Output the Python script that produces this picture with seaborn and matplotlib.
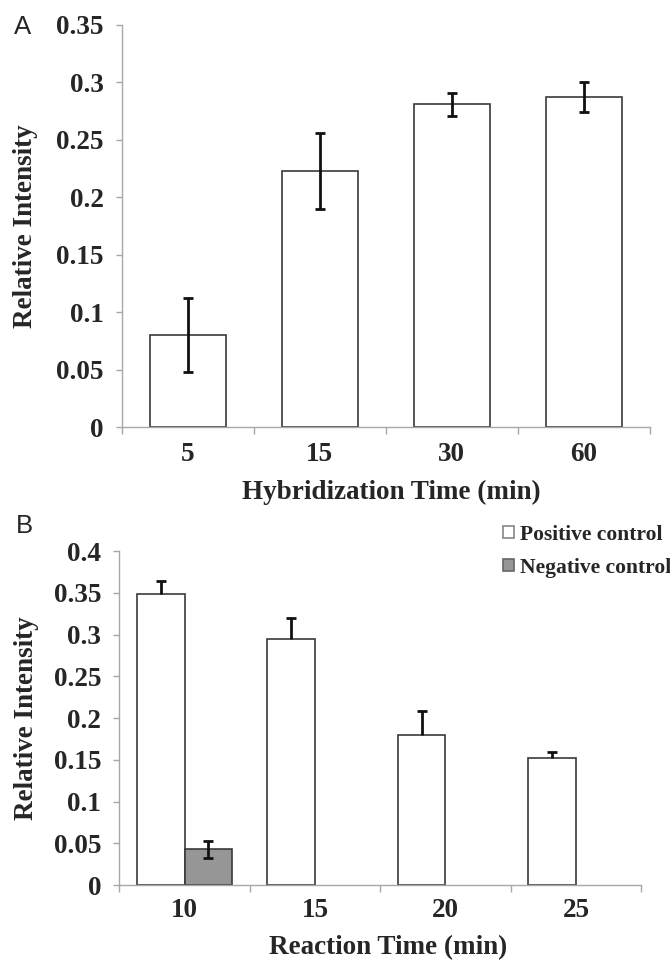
import numpy as np
import pandas as pd
import matplotlib
matplotlib.use("Agg")
import matplotlib.pyplot as plt
import seaborn as sns
from matplotlib.patches import Patch
from matplotlib.ticker import FixedLocator, FuncFormatter

# ---------------- data ----------------
hyb_times = ["5", "15", "30", "60"]
hyb_values = [0.080, 0.223, 0.281, 0.287]
hyb_errors = [0.032, 0.033, 0.010, 0.013]

rxn_times = ["10", "15", "20", "25"]
pos_values = [0.348, 0.295, 0.180, 0.152]
pos_errors = [0.016, 0.025, 0.029, 0.007]
neg_times = ["10"]
neg_values = [0.043]
neg_errors = [0.010]
group_labels = ["Positive control", "Negative control"]

yticks_a = [0, 0.05, 0.10, 0.15, 0.20, 0.25, 0.30, 0.35]
yticks_b = [0, 0.05, 0.10, 0.15, 0.20, 0.25, 0.30, 0.35, 0.40]

# ---------------- style ----------------
sns.set_theme(style="white")
plt.rcParams["font.family"] = ["Liberation Serif", "DejaVu Serif"]
plt.rcParams["font.weight"] = "bold"

SPINE = "#a8a8a8"
EDGE = "#3a3a3a"
NEG_FILL = "#969696"
FS = 19.5

fig = plt.figure(figsize=(6.7, 9.6), dpi=100)
axA = fig.add_axes([0.182, 0.555, 0.788, 0.419])
axB = fig.add_axes([0.178, 0.078, 0.779, 0.348])

fmt = FuncFormatter(lambda v, p: "0" if abs(v) < 1e-9 else ("%g" % round(v, 2)))


def style_axes(ax, yticks, ylim, xpad):
    ax.set_ylim(*ylim)
    ax.set_xlim(-0.5, 3.5)
    ax.yaxis.set_major_locator(FixedLocator(yticks))
    ax.yaxis.set_major_formatter(fmt)
    ax.xaxis.set_minor_locator(FixedLocator([-0.5, 0.5, 1.5, 2.5, 3.5]))
    for s in ["top", "right"]:
        ax.spines[s].set_visible(False)
    for s in ["left", "bottom"]:
        ax.spines[s].set_color(SPINE)
        ax.spines[s].set_linewidth(1.0)
    ax.tick_params(axis="y", which="major", direction="out", length=4.5, width=1,
                   color=SPINE, pad=8.5, labelsize=FS, left=True)
    ax.tick_params(axis="x", which="major", length=0, pad=xpad, labelsize=FS)
    ax.tick_params(axis="x", which="minor", direction="out", length=5, width=1,
                   color=SPINE, bottom=True)
    for lab in ax.get_xticklabels() + ax.get_yticklabels():
        lab.set_fontweight("bold")
    ax.set_facecolor("white")


# ---------------- panel A ----------------
sns.barplot(x=hyb_times, y=hyb_values, order=hyb_times, color="white",
            saturation=1, edgecolor=EDGE, linewidth=1.2, width=0.58,
            errorbar=None, ax=axA)
xs = [p.get_x() + p.get_width() / 2 for p in axA.containers[0]]
axA.errorbar(xs, hyb_values, yerr=hyb_errors, fmt="none", ecolor="#111111",
             elinewidth=2, capsize=3.5, capthick=2, zorder=5)
style_axes(axA, yticks_a, (0, 0.35), 11)
axA.set_ylabel("Relative Intensity", fontsize=FS, fontweight="bold")
axA.set_xlabel("Hybridization Time (min)", fontsize=FS, fontweight="bold")
axA.yaxis.set_label_coords(-0.182, 0.5)
axA.yaxis.label.set_va("center")
axA.xaxis.set_label_coords(0.51, -0.162)
axA.xaxis.label.set_va("center")

# ---------------- panel B ----------------
dfB = pd.DataFrame({
    "time": rxn_times + neg_times,
    "value": pos_values + neg_values,
    "group": [group_labels[0]] * len(rxn_times) + [group_labels[1]] * len(neg_times),
})
sns.barplot(data=dfB, x="time", y="value", hue="group", order=rxn_times,
            hue_order=group_labels, palette=["white", NEG_FILL], saturation=1,
            edgecolor=EDGE, linewidth=1.2, width=0.73, gap=0, errorbar=None,
            legend=False, ax=axB)
pos_x = [p.get_x() + p.get_width() / 2 for p in axB.containers[0]]
neg_x = [p.get_x() + p.get_width() / 2 for p in axB.containers[1]]
_, caps, _ = axB.errorbar(pos_x, pos_values,
                          yerr=[[0] * len(pos_errors), pos_errors],
                          fmt="none", ecolor="#111111", elinewidth=2,
                          capsize=3.5, capthick=2, zorder=5)
if len(caps) == 2:
    caps[0].set_visible(False)   # one-sided bars: no cap at the bar top
axB.errorbar(neg_x, neg_values, yerr=neg_errors, fmt="none", ecolor="#111111",
             elinewidth=2, capsize=3.5, capthick=2, zorder=5)
style_axes(axB, yticks_b, (0, 0.4), 9)
axB.set_ylabel("Relative Intensity", fontsize=FS, fontweight="bold")
axB.set_xlabel("Reaction Time (min)", fontsize=FS, fontweight="bold")
axB.yaxis.set_label_coords(-0.178, 0.5)
axB.yaxis.label.set_va("center")
axB.xaxis.set_label_coords(0.515, -0.188)
axB.xaxis.label.set_va("center")

handles = [Patch(facecolor="white", edgecolor="#888888", linewidth=1.2),
           Patch(facecolor=NEG_FILL, edgecolor="#666666", linewidth=1.2)]
fig.legend(handles, group_labels, loc="upper left",
           bbox_to_anchor=(503 / 670, 1 - 525 / 960), frameon=False,
           prop={"family": "Liberation Serif", "weight": "bold", "size": 15.5},
           handlelength=0.5, handleheight=0.5, handletextpad=0.3,
           labelspacing=0.6, borderpad=0, borderaxespad=0)

# ---------------- panel letters ----------------
fig.text(0.034, 1 - 27 / 960, "A", family="Liberation Sans", fontweight="normal",
         fontsize=18.5, ha="center", va="center")
fig.text(0.036, 1 - 526 / 960, "B", family="Liberation Sans", fontweight="normal",
         fontsize=18.5, ha="center", va="center")

fig.savefig("out.png", dpi=100, facecolor="white")
